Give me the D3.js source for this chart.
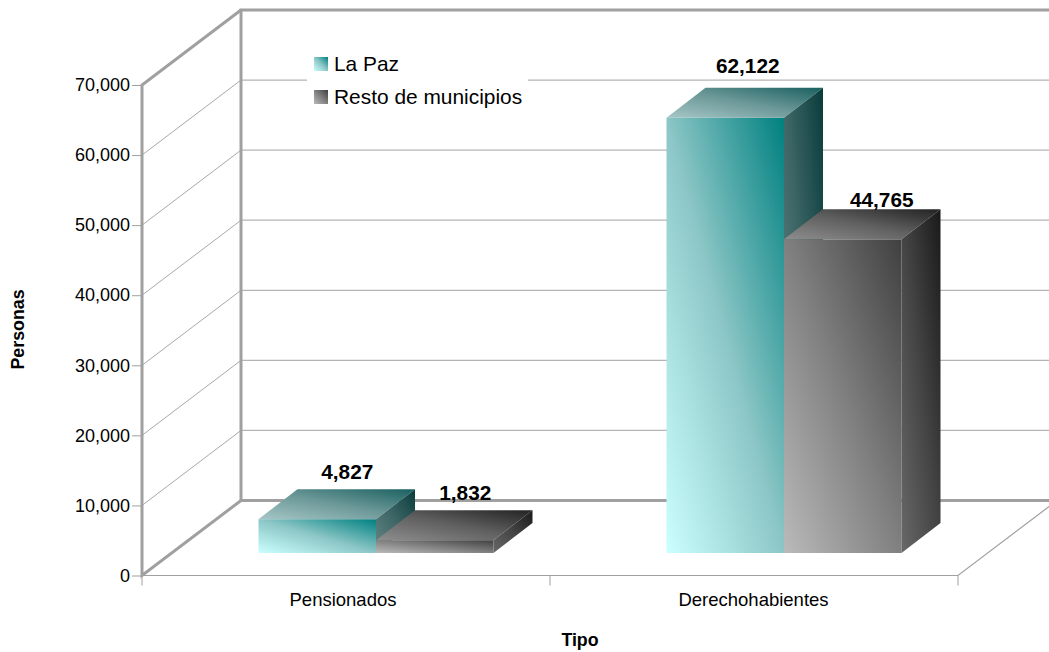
<!DOCTYPE html>
<html><head><meta charset="utf-8">
<script src="https://cdn.jsdelivr.net/npm/d3@7/dist/d3.min.js"></script>
<style>html,body{margin:0;padding:0;background:#fff}svg{display:block}text{font-family:"Liberation Sans",Arial,sans-serif;fill:#000}</style>
</head><body><svg id="c" width="1049" height="652"></svg>
<script>
const categories = ["Pensionados", "Derechohabientes"];
const seriesNames = ["La Paz", "Resto de municipios"];
const laPaz = [4827, 62122];
const resto = [1832, 44765];
const yTicks = [0, 10000, 20000, 30000, 40000, 50000, 60000, 70000];
const xTitle = "Tipo", yTitle = "Personas";

const svg = d3.select("#c");
const y = d3.scaleLinear().domain([0, 70000]).range([575.5, 85]);
const x = d3.scaleBand().domain(categories).range([142, 958]);
const wall = {dx: 99, dy: -75}, bar = {dx: 39, dy: -30}, barW = 117.5;
const off = {dx: (wall.dx - bar.dx) / 2, dy: (wall.dy - bar.dy) / 2};
const fmt = d3.format(",");
// hand placement of the value labels, [series][category], relative to the bar top
const labelNudge = [[[10.5, 5], [3, 0]], [[11, 4.5], [19.5, 13]]];
const tickNudge = [-3, -0.5];

const defs = svg.append("defs");
function grad(id, a, m, b) {
  const g = defs.append("linearGradient").attr("id", id).attr("x1", 0).attr("y1", 1).attr("x2", 1).attr("y2", 0);
  g.append("stop").attr("offset", 0).attr("stop-color", a);
  g.append("stop").attr("offset", 0.5).attr("stop-color", m);
  g.append("stop").attr("offset", 1).attr("stop-color", b);
}
grad("f0", "#ccffff", "#8cc6c6", "#008080"); grad("t0", "#a6c6c6", "#6c9898", "#1a6060"); grad("s0", "#668686", "#3e6666", "#0a3c3c");
grad("f1", "#bababa", "#808080", "#404040"); grad("t1", "#8e8e8e", "#606060", "#222222"); grad("s1", "#686868", "#444444", "#1a1a1a");

const W = 1049;
// grid
const g = svg.append("g");
yTicks.slice(1, -1).forEach(t => {
  g.append("line").attr("x1", 142).attr("y1", y(t)).attr("x2", 142 + wall.dx).attr("y2", y(t) + wall.dy).attr("stroke", "#a8a8a8");
  g.append("line").attr("x1", 142 + wall.dx).attr("y1", y(t) + wall.dy).attr("x2", W).attr("y2", y(t) + wall.dy).attr("stroke", "#b4b4b4").attr("stroke-width", 1.2);
});
// walls
const wc = "#a0a0a0";
g.append("path").attr("fill", "none").attr("stroke", wc).attr("stroke-width", 3)
  .attr("d", `M${W},${y(70000)+wall.dy} H${142+wall.dx} V${y(0)+wall.dy} H${W}`);
g.append("path").attr("fill", "none").attr("stroke", wc).attr("stroke-width", 3)
  .attr("d", `M${142+wall.dx},${y(70000)+wall.dy} L142,${y(70000)} V${y(0)} L${142+wall.dx},${y(0)+wall.dy}`);
// floor front
g.append("path").attr("fill", "none").attr("stroke", "#a0a0a0").attr("stroke-width", 1.2)
  .attr("d", `M142,${y(0)} H958 L${958+wall.dx},${y(0)+wall.dy}`);
// axis ticks
const axisL = d3.axisLeft(y).tickValues(yTicks).tickFormat(fmt).tickSize(10).tickPadding(2);
const gy = svg.append("g").attr("transform", "translate(142,0)").call(axisL);
gy.select(".domain").remove();
gy.selectAll("line").attr("stroke", "#a0a0a0");
gy.selectAll("text").attr("font-size", 18).attr("font-family", null);
const axisB = d3.axisBottom(x).tickSizeOuter(0).tickSize(0).tickPadding(17);
const gx = svg.append("g").attr("transform", `translate(0,${y(0)})`).call(axisB);
gx.select(".domain").remove();
gx.selectAll("text").attr("font-size", 18.5).attr("font-family", null).attr("dx", (d, i) => tickNudge[i]);
[142, 550, 958].forEach(v => svg.append("line").attr("x1", v).attr("x2", v).attr("y1", y(0)).attr("y2", y(0) + 10).attr("stroke", "#a0a0a0"));
// bars
const rows = [];
[laPaz, resto].forEach((vals, s) => vals.forEach((v, i) => rows.push({s, i, v})));
rows.sort((a, b) => a.i - b.i || a.s - b.s);
const bg = svg.append("g");
rows.forEach(d => {
  const cx = x(categories[d.i]) + x.bandwidth() / 2 + off.dx;
  const l = cx - barW + d.s * barW, r = l + barW;
  const base = y(0) + off.dy, top = y(d.v) + off.dy;
  bg.append("rect").attr("x", l).attr("y", top).attr("width", barW).attr("height", base - top).attr("fill", `url(#f${d.s})`);
  bg.append("path").attr("d", `M${l},${top} L${l+bar.dx},${top+bar.dy} H${r+bar.dx} L${r},${top} Z`).attr("fill", `url(#t${d.s})`);
  bg.append("path").attr("d", `M${r},${top} L${r+bar.dx},${top+bar.dy} V${base+bar.dy} L${r},${base} Z`).attr("fill", `url(#s${d.s})`);
});
rows.forEach(d => {
  const cx = x(categories[d.i]) + x.bandwidth() / 2 + off.dx;
  const l = cx - barW + d.s * barW;
  const [nx, ny] = labelNudge[d.s][d.i];
  svg.append("text").attr("x", l + barW / 2 + bar.dx / 2 + nx).attr("y", y(d.v) + off.dy + bar.dy - 15 + ny)
    .attr("text-anchor", "middle").attr("font-weight", "bold").attr("font-size", 20.8).text(fmt(d.v));
});
// legend
svg.append("rect").attr("x", 307).attr("y", 40).attr("width", 221).attr("height", 80).attr("fill", "#fff");
seriesNames.forEach((n, i) => {
  const ly = 64 + i * 33;
  svg.append("rect").attr("x", 314).attr("y", ly - 7).attr("width", 14).attr("height", 14).attr("fill", `url(#f${i})`);
  svg.append("text").attr("x", 334).attr("y", ly + 6.5).attr("font-size", 20.9).text(n);
});
// titles
svg.append("text").attr("x", 580).attr("y", 646).attr("text-anchor", "middle").attr("font-weight", "bold").attr("font-size", 17.8).text(xTitle);
svg.append("text").attr("transform", "translate(23.5,329.5) rotate(-90)").attr("text-anchor", "middle").attr("font-weight", "bold").attr("font-size", 17.8).text(yTitle);
</script></body></html>
